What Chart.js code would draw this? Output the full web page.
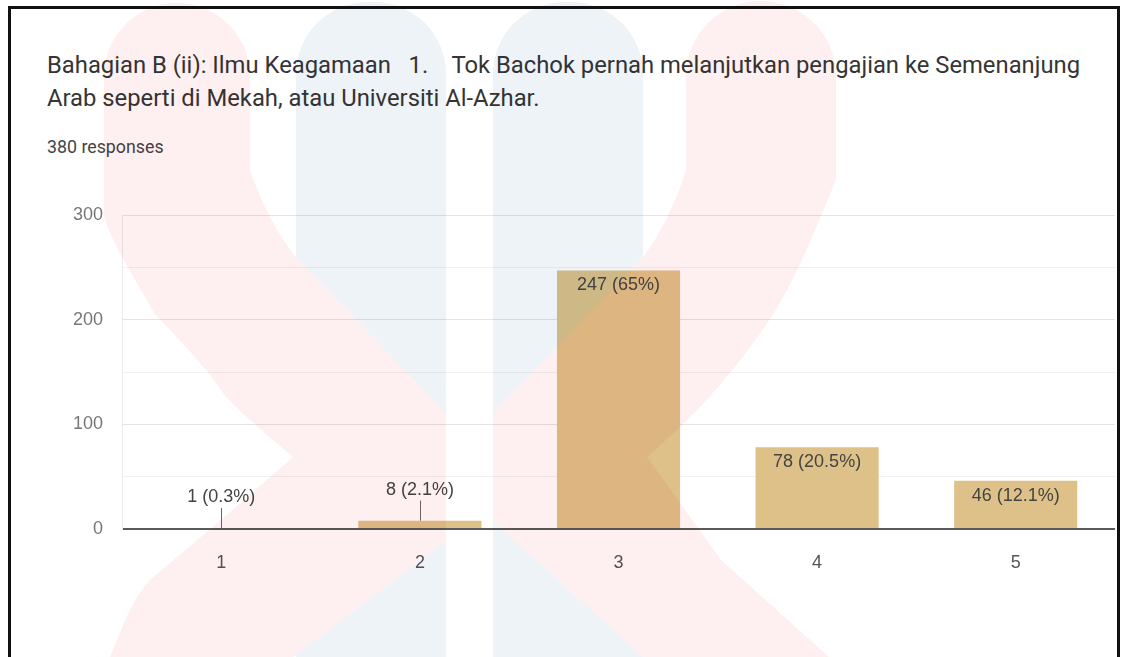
<!DOCTYPE html>
<html>
<head>
<meta charset="utf-8">
<script src="https://cdn.jsdelivr.net/npm/chart.js@4.4.1/dist/chart.umd.min.js"></script>
<style>
  body { margin: 0; width: 1122px; height: 657px; overflow: hidden; background: #fff; position: relative; font-family: Roboto, sans-serif; }
  #frame { position: absolute; left: 8px; top: 6px; width: 1106px; height: 720px; border: 3px solid #111; }
  .title { position: absolute; left: 47px; color: #353535; font-size: 23.8px; line-height: 32px; white-space: pre; }
  #count { position: absolute; left: 47px; top: 139px; color: #444; font-size: 17.8px; line-height: 16px; }
  #chart { position: absolute; left: 0; top: 0; }
  #mark { position: absolute; left: 0; top: 0; mix-blend-mode: multiply; pointer-events: none; }
</style>
</head>
<body>
<div id="frame"></div>
<div class="title" style="top:49px">Bahagian B (ii): Ilmu Keagamaan   1.    Tok Bachok pernah melanjutkan pengajian ke Semenanjung</div>
<div class="title" style="top:82px">Arab seperti di Mekah, atau Universiti Al-Azhar.</div>
<div id="count">380 responses</div>
<canvas id="chart" width="1122" height="657"></canvas>

<!-- faint watermark of the source scan -->
<svg id="mark" width="1122" height="657">
  <g fill="#eef3f8">
    <rect x="296" y="2" width="150" height="800" rx="72"/>
    <rect x="493" y="2" width="150" height="800" rx="72"/>
  </g>
  <g fill="#fef0f0">
    <path d="M104,76 A73,73 0 0 1 250,76 L250,170 C262,205 278,235 296,257 L446,413 L446,541 L293,657 L110,657
             C125,620 135,595 150,580 L229,513 L293,457 C250,420 225,400 214,380 C190,350 170,330 154,313 C130,270 110,240 104,215 Z"/>
    <path d="M686,76 A75,75 0 0 1 836,76 L836,180 C815,230 800,270 774,313 C730,380 690,420 647,457 L721,560 L829,657 L643,657
             L536,560 L493,521 L493,413 L643,257 C660,235 675,205 686,170 Z"/>
  </g>
</svg>

<script>
const categories = ['1', '2', '3', '4', '5'];
const counts = [1, 8, 247, 78, 46];
const percents = ['0.3', '2.1', '65', '20.5', '12.1'];
const yTicks = [0, 100, 200, 300];

const barLabels = {
  id: 'barLabels',
  afterDatasetsDraw(chart) {
    const ctx = chart.ctx;
    const bars = chart.getDatasetMeta(0).data;
    ctx.save();
    ctx.font = '18px "Liberation Sans", Arial, sans-serif';
    ctx.textAlign = 'center';
    ctx.textBaseline = 'middle';
    ctx.fillStyle = '#444';
    bars.forEach((bar, i) => {
      const text = `${counts[i]} (${percents[i]}%)`;
      if (bar.base - bar.y > 30) {
        ctx.fillText(text, bar.x, bar.y + 15);
      } else {
        // small bars: label above with a thin leader line
        ctx.fillText(text, bar.x, bar.y - 31);
        ctx.strokeStyle = '#666';
        ctx.lineWidth = 1;
        ctx.beginPath();
        ctx.moveTo(Math.round(bar.x) + 0.5, bar.y - 20);
        ctx.lineTo(Math.round(bar.x) + 0.5, bar.y);
        ctx.stroke();
      }
    });
    ctx.restore();
  }
};

new Chart(document.getElementById('chart'), {
  type: 'bar',
  data: {
    labels: categories,
    datasets: [{
      data: counts,
      backgroundColor: '#ddc189',
      barPercentage: 0.62,
      categoryPercentage: 1,
    }],
  },
  options: {
    responsive: false,
    animation: false,
    devicePixelRatio: 1,
    layout: { padding: { top: 215, right: 7, left: 0, bottom: 0 } },
    plugins: { legend: { display: false }, tooltip: { enabled: false } },
    scales: {
      x: {
        grid: { display: false },
        border: { display: false },
        ticks: { color: '#555', padding: 15, font: { size: 18, family: '"Liberation Sans", Arial, sans-serif' } },
        afterFit(s) { s.height = 128; },
      },
      y: {
        min: 0,
        max: 300,
        ticks: {
          stepSize: 50,
          padding: 19,
          color: '#777',
          font: { size: 18, family: '"Liberation Sans", Arial, sans-serif' },
          callback: v => (yTicks.includes(v) ? v : ''),
        },
        grid: {
          drawTicks: false,
          color: c => (c.tick.value === 0 ? '#5a5a5a' : yTicks.includes(c.tick.value) ? '#e4e4e4' : '#f2f2f2'),
          lineWidth: c => (c.tick.value === 0 ? 2 : 1),
        },
        border: { display: true, color: '#ebebeb' },
        afterFit(s) { s.width = 122; },
      },
    },
  },
  plugins: [barLabels],
});
</script>
</body>
</html>
